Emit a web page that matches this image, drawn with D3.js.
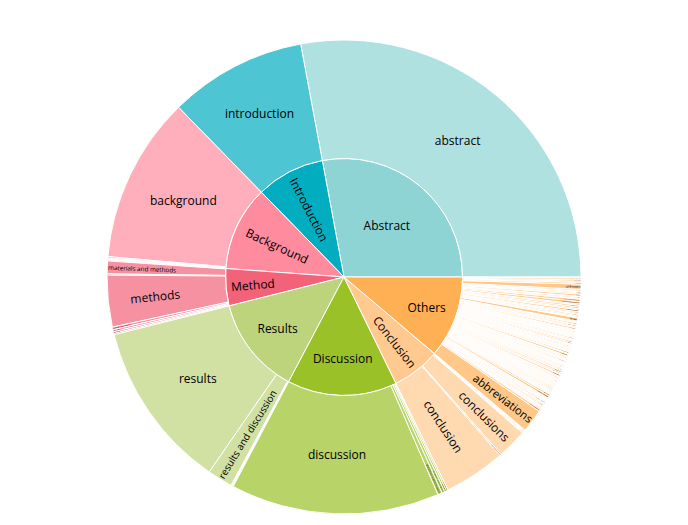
<!DOCTYPE html>
<html>
<head>
<meta charset="utf-8">
<script src="https://cdn.jsdelivr.net/npm/d3@7"></script>
<style>
  html, body { margin: 0; padding: 0; background: #fff; }
  #sunburst text { font-family: 'Open Sans', verdana, arial, sans-serif; fill: #000; }
</style>
</head>
<body>
<div id="sunburst"></div>
<script>
// section headings of papers, grouped into categories (counts)
const categories = ['Abstract', 'Introduction', 'Background', 'Method', 'Results', 'Discussion', 'Conclusion', 'Others'];
const categoryColors = ['#8ed4d4', '#02adc0', '#ff8b9f', '#f2637a', '#bdd37c', '#9ac128', '#ffc98f', '#ffb055'];

const abstractSections = [['abstract', 2814]];
const introductionSections = [['introduction', 944]];
const backgroundSections = [
  ['background', 1142], ['background and aims', 8], ['background and objectives', 6],
  ['background and purpose', 5], ['background/aims', 4]
];
const methodSections = [
  ['material and methods', 6], ['materials and methods', 88], ['method', 8], ['methods', 355],
  ['methods and materials', 18], ['methodology', 14], ['study design', 12], ['patients and methods', 9]
];
const resultsSections = [
  ['results', 1154], ['results and discussion', 174], ['results and discussions', 6],
  ['results/discussion', 5], ['findings', 5]
];
const discussionSections = [
  ['discussion', 1434], ['discussion and conclusion', 30], ['discussion and conclusions', 20],
  ['discussions', 14], ['general discussion', 11]
];
const conclusionSections = [
  ['conclusion', 423], ['conclusion and future work', 11], ['conclusions', 204],
  ['concluding remarks', 6], ['conclusions and perspectives', 5], ['final remarks', 5],
  ['summary', 6], ['summary and conclusions', 4]
];
const othersSections = [
  ['abbreviations', 160], ['acknowledgements', 14], ['acknowledgments', 7], ['aim', 4],
  ['aim of the study', 4], ['aims', 5], ['analysis', 5], ['application', 5], ['appendix', 9],
  ['approach', 5], ['assessment', 4], ['assumptions', 4], ['author contributions', 9],
  ['author summary', 4], ["authors' contributions", 6], ['availability', 4],
  ['background information', 4], ['benefits', 4], ['case', 5], ['case description', 5],
  ['case presentation', 16], ['case report', 12], ['case series', 4], ['challenges', 5],
  ['clinical implications', 4], ['clinical significance', 5], ['comments', 5], ['commentary', 4],
  ['comparison', 5], ['competing interests', 7], ['computational details', 6],
  ['conflict of interest', 8], ['conflicts of interest', 5], ['consent', 5], ['context', 5],
  ['contributions', 4], ['data', 5], ['data availability', 6], ['data collection', 5],
  ['declarations', 5], ['definitions', 4], ['description', 4], ['design', 6], ['disclosure', 5],
  ['ethics', 5], ['ethics statement', 5], ['evaluation', 8], ['evidence', 4], ['example', 5],
  ['experimental', 12], ['experimental procedures', 5], ['experimental section', 9],
  ['experiments', 11], ['features', 4], ['funding', 9], ['future directions', 7],
  ['future perspectives', 5], ['future research', 6], ['future work', 8], ['glossary', 5],
  ['goals', 4], ['highlights', 4], ['history', 5], ['hypothesis', 5], ['impact', 4],
  ['implementation', 9], ['implications', 6], ['importance', 4], ['interpretation', 4],
  ['interventions', 4], ['key messages', 8], ['key points', 5], ['lessons learned', 4],
  ['limitations', 14], ['limitations of the study', 5], ['literature review', 10], ['main text', 5],
  ['management', 4], ['materials', 7], ['measurements', 4], ['measures', 5], ['mechanisms', 4],
  ['model', 7], ['motivation', 8], ['notation', 5], ['notes', 4], ['novelty', 4],
  ['objective', 10], ['objectives', 10], ['observations', 4], ['outcomes', 4], ['outlook', 7],
  ['overview', 9], ['participants', 5], ['patients', 6], ['perspective', 4], ['perspectives', 5],
  ['pharmacology', 4], ['preliminaries', 6], ['presentation', 4], ['principles', 4],
  ['problem statement', 6], ['procedure', 4], ['proof', 4], ['protocol', 5], ['purpose', 12],
  ['questions', 4], ['rationale', 5], ['recommendations', 9], ['references', 5],
  ['related work', 10], ['relevance', 4], ['remarks', 4], ['research design', 4],
  ['review', 24],
  ['safety', 6], ['samples', 8], ['setting', 10], ['significance', 7], ['simulation', 9],
  ['statistical analysis', 14], ['strengths', 8], ['others', 11],
  ['study limitations', 12], ['subjects', 8], ['supplementary material', 18],
  ['supporting information', 16], ['synopsis', 6], ['tables', 9], ['terminology', 5], ['theory', 14],
  ['toxicity', 8], ['treatment', 8], ['trial design', 6], ['trial registration', 10],
  ['unknown', 36], ['validation', 12], ['web resources', 8], ['what is known', 10],
  ['what this study adds', 12], ['zusammenfassung', 6]
];

const sectionsByCategory = [
  abstractSections, introductionSections, backgroundSections, methodSections,
  resultsSections, discussionSections, conclusionSections, othersSections
];

const width = 688;
const height = 525;
const cx = 344;
const cy = 277;
const outerRadius = 237;
const TEXTPAD = 3;

const svg = d3.select('#sunburst')
  .append('svg')
  .attr('width', width)
  .attr('height', height);

const g = svg.append('g').attr('transform', 'translate(' + cx + ',' + cy + ')');

const root = d3.hierarchy({
  name: 'root',
  children: categories.map((c, i) => ({
    name: c,
    color: categoryColors[i],
    children: sectionsByCategory[i].map(s => ({ name: s[0], value: s[1] }))
  }))
}).sum(d => d.value || 0);

d3.partition().size([2 * Math.PI, 3])(root);

const radius = d3.scaleLinear().domain([1, 3]).range([0, outerRadius]);

// start at 3 o'clock and go counter-clockwise
const angleOf = x => Math.PI / 2 - x;

const arc = d3.arc()
  .startAngle(d => angleOf(d.x1))
  .endAngle(d => angleOf(d.x0))
  .innerRadius(d => radius(d.y0))
  .outerRadius(d => radius(d.y1));

const nodes = root.descendants().filter(d => d.depth > 0);
const colorOf = d => (d.depth === 1 ? d.data.color : d.parent.data.color);

const slice = g.selectAll('g.slice')
  .data(nodes)
  .join('g')
  .attr('class', 'slice');

slice.append('path')
  .attr('d', arc)
  .style('fill', colorOf)
  .style('fill-opacity', d => (d.children ? 1 : 0.7))
  .style('stroke', '#fff')
  .style('stroke-width', 1);

// text fitting, the same way plotly fits inside text
function maxHalfSize(a, halfAngle, r, ring) {
  const q = a + 1 / (2 * Math.tan(halfAngle));
  return r * Math.min(
    1 / (Math.sqrt(q * q + 0.5) + q),
    ring / (Math.sqrt(a * a + ring / 2) + a)
  );
}

const rotateFor = t => ((180 / Math.PI) * t + 720) % 180 - 90;

function fitText(bb, d) {
  const r = radius(d.y1);
  const ring = 1 - radius(d.y0) / r;
  const halfAngle = (d.x1 - d.x0) / 2;
  const midAngle = angleOf((d.x0 + d.x1) / 2);
  const rInscribed = Math.min(1 / (1 + 1 / Math.sin(halfAngle)), ring / 2);
  const diameter = Math.sqrt(bb.width * bb.width + bb.height * bb.height);
  const horizontal = { scale: rInscribed * r * 2 / diameter, rCenter: 1 - rInscribed, rotate: 0 };
  if (horizontal.scale >= 1) return horizontal;

  const rr = Math.max(0, r - 2 * TEXTPAD);
  const aRad = bb.width / bb.height;
  const sRad = maxHalfSize(aRad, halfAngle, rr, ring);
  const radial = {
    scale: sRad * 2 / bb.height,
    rCenter: Math.cos(sRad / rr) - aRad * sRad / rr,
    rotate: rotateFor(midAngle)
  };
  const aTan = bb.height / bb.width;
  const sTan = maxHalfSize(aTan, halfAngle, rr, ring);
  const tangential = {
    scale: sTan * 2 / bb.width,
    rCenter: Math.cos(sTan / rr) - aTan * sTan / rr,
    rotate: rotateFor(midAngle + Math.PI / 2)
  };
  return [horizontal, radial, tangential].reduce((a, b) => (b.scale > a.scale ? b : a));
}

slice.append('text')
  .attr('text-anchor', 'middle')
  .style('font-size', '12px')
  .text(d => d.data.name)
  .attr('transform', function(d) {
    const bb = this.getBBox();
    const t = fitText(bb, d);
    const mid = angleOf((d.x0 + d.x1) / 2);
    const rc = t.rCenter * radius(d.y1);
    const tx = rc * Math.sin(mid);
    const ty = -rc * Math.cos(mid);
    const s = Math.min(1, t.scale);
    return 'translate(' + tx + ',' + ty + ') rotate(' + t.rotate + ') scale(' + s + ') translate(' +
      -(bb.x + bb.width / 2) + ',' + -(bb.y + bb.height / 2) + ')';
  });
</script>
</body>
</html>
